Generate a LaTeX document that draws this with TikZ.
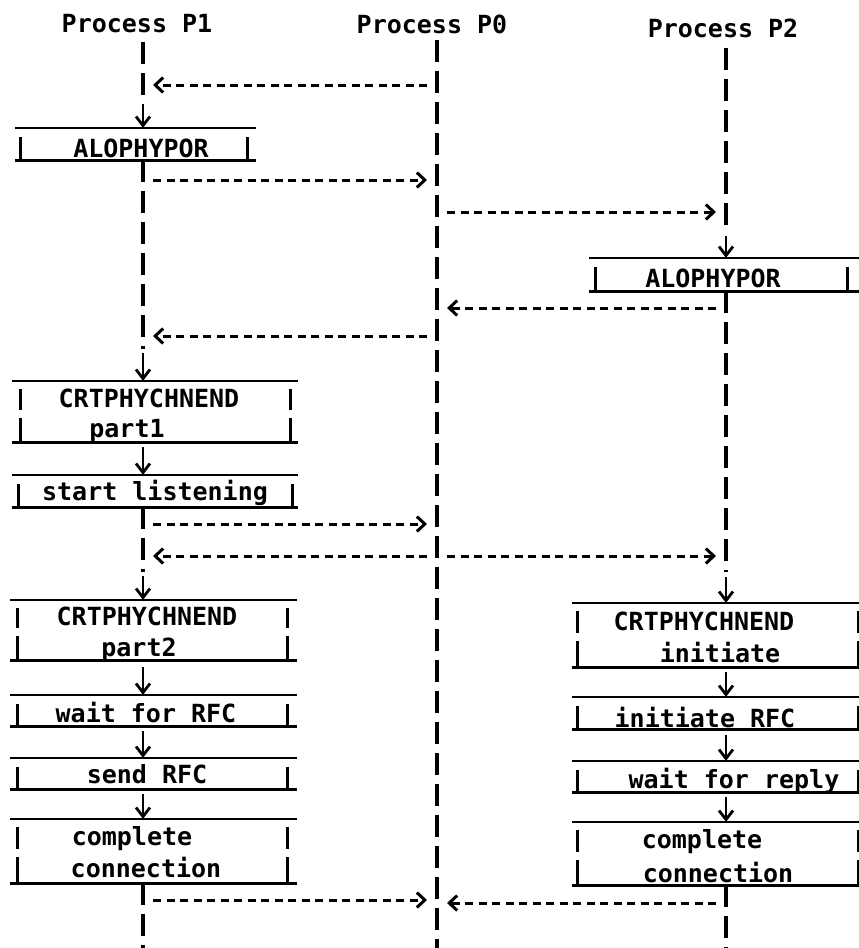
\documentclass[tikz,border=0pt]{standalone}
\usepackage{fontspec}
\setmonofont{DejaVu Sans Mono}
\usetikzlibrary{arrows.meta}
\newcommand{\procbox}[8]{%
  \node[boxshape, minimum width={#4-#2}, minimum height={#5-#3}] (#1) at ({(#2+#4)/2},{(#3+#5)/2}) {};
  \draw[boxline] (#1.north west) -- (#1.north east) (#1.south west) -- (#1.south east);
  \ifnum#8=1
    \draw[tickline] (#6,{#3+9}) -- (#6,#5) (#7,{#3+9}) -- (#7,#5);
  \else
    \draw[tickline] (#6,{#3+8}) -- (#6,{(#3+#5)/2-2}) (#6,{(#3+#5)/2+6}) -- (#6,#5)
                    (#7,{#3+8}) -- (#7,{(#3+#5)/2-2}) (#7,{(#3+#5)/2+6}) -- (#7,#5);
  \fi}
\begin{document}
\begin{tikzpicture}[x=1pt,y=-1pt,
  lifeline/.style={line width=3.4pt, dash pattern=on 22pt off 9pt},
  msg/.style={line width=3pt, dash pattern=on 8pt off 5.5pt,
    -{Straight Barb[length=8pt,width=15pt]}, shorten <=10pt, shorten >=10pt},
  down/.style={line width=2.8pt, -{Straight Barb[length=9pt,width=14pt]}},
  boxline/.style={line width=2.6pt},
  tickline/.style={line width=3pt},
  lbl/.style={font=\ttfamily\bfseries\fontsize{25}{29}\selectfont, inner sep=0pt, anchor=base},
  boxshape/.style={rectangle, inner sep=0pt, draw=none, fill=none}
]
\useasboundingbox (0,0) rectangle (859,948);

% headers
\node[lbl] (h1) at (137,32) {Process P1};
\node[lbl] (h0) at (432,33) {Process P0};
\node[lbl] (h2) at (723,37) {Process P2};

% boxes
\procbox{A1}{15}{128}{256}{160}{20}{247}{1}
\procbox{A2}{589}{258}{859}{291}{595}{847}{1}
\procbox{C1}{12}{381}{298}{442}{20}{290}{2}
\procbox{S1}{12}{475}{298}{507}{18}{292}{1}
\procbox{C2}{10}{600}{297}{660}{17}{287}{2}
\procbox{W1}{10}{695}{297}{726}{17}{287}{1}
\procbox{S2}{10}{758}{297}{789}{17}{287}{1}
\procbox{CC1}{10}{819}{297}{883}{17}{287}{2}
\procbox{C3}{572}{603}{859}{667}{577}{858}{2}
\procbox{I2}{572}{697}{859}{729}{577}{858}{1}
\procbox{W2}{572}{761}{859}{792}{577}{858}{1}
\procbox{CC2}{572}{822}{859}{885}{577}{858}{2}

% box texts
\node[lbl] (tA1) at (141,157) {ALOPHYPOR};
\node[lbl] (tA2) at (713,287) {ALOPHYPOR};
\node[lbl] (tC1a) at (149,407) {CRTPHYCHNEND};
\node[lbl] (tC1b) at (127,437) {part1};
\node[lbl] (tS1) at (155,500) {start listening};
\node[lbl] (tC2a) at (147,625) {CRTPHYCHNEND};
\node[lbl] (tC2b) at (139,656) {part2};
\node[lbl] (tW1) at (146,722) {wait for RFC};
\node[lbl] (tS2) at (147,783) {send RFC};
\node[lbl] (tCC1a) at (132,845) {complete};
\node[lbl] (tCC1b) at (146,877) {connection};
\node[lbl] (tC3a) at (704,630) {CRTPHYCHNEND};
\node[lbl] (tC3b) at (720,662) {initiate};
\node[lbl] (tI2) at (705,727) {initiate RFC};
\node[lbl] (tW2) at (734,788) {wait for reply};
\node[lbl] (tCC2a) at (702,848) {complete};
\node[lbl] (tCC2b) at (718,882) {connection};

% lifeline points P1
\coordinate (p1s0) at (143,42);  \coordinate (p1e0) at (143,100); \coordinate (p1d0) at (143,104);
\coordinate (p1e1) at (143,349); \coordinate (p1d1) at (143,353);
\coordinate (p1d2) at (143,447);
\coordinate (p1e3) at (143,572); \coordinate (p1d3) at (143,576);
\coordinate (p1d4) at (143,667);
\coordinate (p1d5) at (143,731);
\coordinate (p1d6) at (143,794);
\coordinate (p1end) at (143,948);
% P0
\coordinate (p0s) at (437,40); \coordinate (p0end) at (437,948);
% P2
\coordinate (p2s0) at (726,48);  \coordinate (p2e0) at (726,232); \coordinate (p2d0) at (726,236);
\coordinate (p2e1) at (726,572); \coordinate (p2d1) at (726,577);
\coordinate (p2d2) at (726,672);
\coordinate (p2d3) at (726,735);
\coordinate (p2d4) at (726,797);
\coordinate (p2end) at (726,948);

% lifelines P1
\draw[lifeline] (p1s0) -- (p1e0);
\draw[down] (p1d0) -- (p1d0 |- A1.north);
\draw[lifeline] (p1e0 |- A1.south) -- (p1e1);
\draw[down] (p1d1) -- (p1d1 |- C1.north);
\draw[down] (p1d2) -- (p1d2 |- S1.north);
\draw[lifeline] (p1e3 |- S1.south) -- (p1e3);
\draw[down] (p1d3) -- (p1d3 |- C2.north);
\draw[down] (p1d4) -- (p1d4 |- W1.north);
\draw[down] (p1d5) -- (p1d5 |- S2.north);
\draw[down] (p1d6) -- (p1d6 |- CC1.north);
\draw[lifeline] (p1end |- CC1.south) -- (p1end);
% P0
\draw[lifeline] (p0s) -- (p0end);
% P2
\draw[lifeline] (p2s0) -- (p2e0);
\draw[down] (p2d0) -- (p2d0 |- A2.north);
\draw[lifeline] (p2e1 |- A2.south) -- (p2e1);
\draw[down] (p2d1) -- (p2d1 |- C3.north);
\draw[down] (p2d2) -- (p2d2 |- I2.north);
\draw[down] (p2d3) -- (p2d3 |- W2.north);
\draw[down] (p2d4) -- (p2d4 |- CC2.north);
\draw[lifeline] (p2end |- CC2.south) -- (p2end);

% message points
\coordinate (m1a) at (437,85);  \coordinate (m1b) at (143,85);
\coordinate (m2a) at (143,180); \coordinate (m2b) at (437,180);
\coordinate (m3a) at (437,212); \coordinate (m3b) at (726,212);
\coordinate (m4a) at (726,308); \coordinate (m4b) at (437,308);
\coordinate (m5a) at (437,336); \coordinate (m5b) at (143,336);
\coordinate (m6a) at (143,524); \coordinate (m6b) at (437,524);
\coordinate (m7a) at (437,556); \coordinate (m7b) at (143,556); \coordinate (m7c) at (726,556);
\coordinate (m8a) at (143,900); \coordinate (m8b) at (437,900);
\coordinate (m9a) at (726,903); \coordinate (m9b) at (437,903);

\draw[msg] (m1a) -- (m1b);
\draw[msg] (m2a) -- (m2b);
\draw[msg] (m3a) -- (m3b);
\draw[msg] (m4a) -- (m4b);
\draw[msg] (m5a) -- (m5b);
\draw[msg] (m6a) -- (m6b);
\draw[msg] (m7a) -- (m7b);
\draw[msg] (m7a) -- (m7c);
\draw[msg] (m8a) -- (m8b);
\draw[msg] (m9a) -- (m9b);
\end{tikzpicture}
\end{document}
